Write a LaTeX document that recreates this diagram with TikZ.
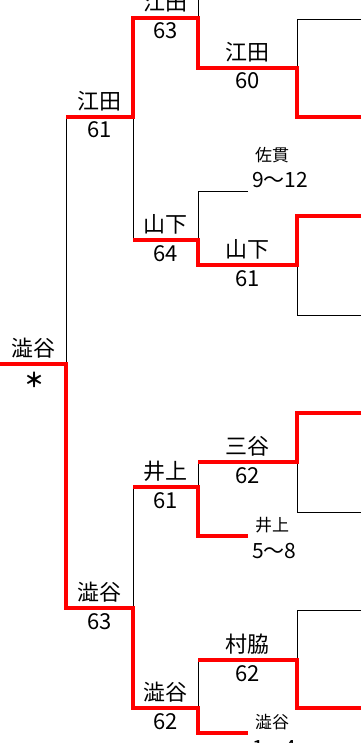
\documentclass[tikz,border=0pt]{standalone}
\usepackage{fontspec}
\setmainfont{Noto Sans CJK JP}
\usetikzlibrary{calc,positioning}

\begin{document}
\begin{tikzpicture}[
	%	style def
    x=1pt, y=-1pt,
    win line/.style={red, line width=4.5pt},
    lose line/.style={black, line width=0.8pt},
    team/.style={anchor=base, inner sep=0pt, font=\fontsize{22}{22}\selectfont},
    score/.style={anchor=base, inner sep=0pt, font=\fontsize{22}{22}\selectfont},
    seed/.style={anchor=base west, inner sep=0pt, font=\fontsize{17}{17}\selectfont},
    seedrange/.style={anchor=base west, inner sep=0pt, font=\fontsize{21}{21}\selectfont}
    ]
    \useasboundingbox (0,0) rectangle (361,743);

	% bracket corners
    \coordinate (root) at (0,364);
    \coordinate (s1) at (66,364);
    \coordinate (e61l) at (66,117);   \coordinate (e61r) at (133,117);
    \coordinate (s63l) at (66,608);   \coordinate (s63r) at (133,608);
    \coordinate (e63l) at (133,18);   \coordinate (e63r) at (198,18);
    \coordinate (y64l) at (133,240);  \coordinate (y64r) at (198,240);
    \coordinate (i61l) at (133,487);  \coordinate (i61r) at (198,487);
    \coordinate (s62l) at (133,708);  \coordinate (s62r) at (198,708);
    \coordinate (up) at (198,0);
    \coordinate (e60l) at (198,68);   \coordinate (e60r) at (297,68);
    \coordinate (sanuki) at (198,191); \coordinate (sanukiend) at (248,191);
    \coordinate (y61l) at (198,265);  \coordinate (y61r) at (297,265);
    \coordinate (m62l) at (198,462);  \coordinate (m62r) at (297,462);
    \coordinate (ileaf) at (198,536); \coordinate (ileafend) at (248,536);
    \coordinate (k62l) at (198,660);  \coordinate (k62r) at (297,660);
    \coordinate (sleaf) at (198,733); \coordinate (sleafend) at (248,733);
    % right hand column
    \coordinate (c1) at (297,19);  \coordinate (d1) at (361,19);
    \coordinate (c2) at (297,117); \coordinate (d2) at (361,117);
    \coordinate (c3) at (297,216); \coordinate (d3) at (361,216);
    \coordinate (c4) at (297,315); \coordinate (d4) at (361,315);
    \coordinate (c5) at (297,413); \coordinate (d5) at (361,413);
    \coordinate (c6) at (297,512); \coordinate (d6) at (361,512);
    \coordinate (c7) at (297,610); \coordinate (d7) at (361,610);
    \coordinate (c8) at (297,708); \coordinate (d8) at (361,708);

	% losing lines
    \draw[lose line] (e61l) -- (s1);
    \draw[lose line] (e61r) -- (y64l);
    \draw[lose line] (up) -- (e63r);
    \draw[lose line] (d1) -- (c1) -- (e60r);
    \draw[lose line] (sanukiend) -- (sanuki) -- (y64r);
    \draw[lose line] (y61r) -- (c4) -- (d4);
    \draw[lose line] (i61l) -- (s63r);
    \draw[lose line] (m62l) -- (i61r);
    \draw[lose line] (m62r) -- (c6) -- (d6);
    \draw[lose line] (k62l) -- (s62r);
    \draw[lose line] (d7) -- (c7) -- (k62r);

	% winning lines
    \draw[win line] (d2) -- (c2) -- (e60r) -- (e60l) -- (e63r) -- (e63l) -- (e61r) -- (e61l);
    \draw[win line] (d3) -- (c3) -- (y61r) -- (y61l) -- (y64r) -- (y64l);
    \draw[win line] (root) -- (s1) -- (s63l) -- (s63r) -- (s62l) -- (s62r) -- (sleaf) -- (sleafend);
    \draw[win line] (d5) -- (c5) -- (m62r) -- (m62l);
    \draw[win line] (i61l) -- (i61r) -- (ileaf) -- (ileafend);
    \draw[win line] (d8) -- (c8) -- (k62r) -- (k62l);

	% names and scores
    \node[team] (troot) at ($(root)!.5!(s1)+(0,-7.5)$) {澁谷};
    \node[team, font=\fontsize{20}{20}\selectfont\bfseries] (sroot) at ($(root)!.5!(s1)+(1,23)$) {＊};
    \node[team] (te61) at ($(e61l)!.5!(e61r)+(0,-7.5)$) {江田};
    \node[score] (se61) at ($(e61l)!.5!(e61r)+(0,21)$) {61};
    \node[team] (ts63) at ($(s63l)!.5!(s63r)+(0,-7.5)$) {澁谷};
    \node[score] (ss63) at ($(s63l)!.5!(s63r)+(0,21)$) {63};
    \node[team] (te63) at ($(e63l)!.5!(e63r)+(0,-7.5)$) {江田};
    \node[score] (se63) at ($(e63l)!.5!(e63r)+(0,21)$) {63};
    \node[team] (ty64) at ($(y64l)!.5!(y64r)+(0,-7.5)$) {山下};
    \node[score] (sy64) at ($(y64l)!.5!(y64r)+(0,21)$) {64};
    \node[team] (ti61) at ($(i61l)!.5!(i61r)+(0,-7.5)$) {井上};
    \node[score] (si61) at ($(i61l)!.5!(i61r)+(0,21)$) {61};
    \node[team] (ts62) at ($(s62l)!.5!(s62r)+(0,-7.5)$) {澁谷};
    \node[score] (ss62) at ($(s62l)!.5!(s62r)+(0,21)$) {62};
    \node[team] (te60) at ($(e60l)!.5!(e60r)+(0,-7.5)$) {江田};
    \node[score] (se60) at ($(e60l)!.5!(e60r)+(0,21)$) {60};
    \node[team] (ty61) at ($(y61l)!.5!(y61r)+(0,-7.5)$) {山下};
    \node[score] (sy61) at ($(y61l)!.5!(y61r)+(0,21)$) {61};
    \node[team] (tm62) at ($(m62l)!.5!(m62r)+(0,-7.5)$) {三谷};
    \node[score] (sm62) at ($(m62l)!.5!(m62r)+(0,21)$) {62};
    \node[team] (tk62) at ($(k62l)!.5!(k62r)+(0,-7.5)$) {村脇};
    \node[score] (sk62) at ($(k62l)!.5!(k62r)+(0,21)$) {62};

	% seeded entries
    \node[seed] (nsanuki) at (255,162) {佐貫};
    \node[seedrange] (rsanuki) at (252,188) {9〜12};
    \node[seed] (ninoue) at (255,531) {井上};
    \node[seedrange] (rinoue) at (252,558) {5〜8};
    \node[seed] (nshibuya) at (255,728) {澁谷};
    \node[seedrange] (rshibuya) at (252,755) {1〜4};
\end{tikzpicture}
\end{document}
